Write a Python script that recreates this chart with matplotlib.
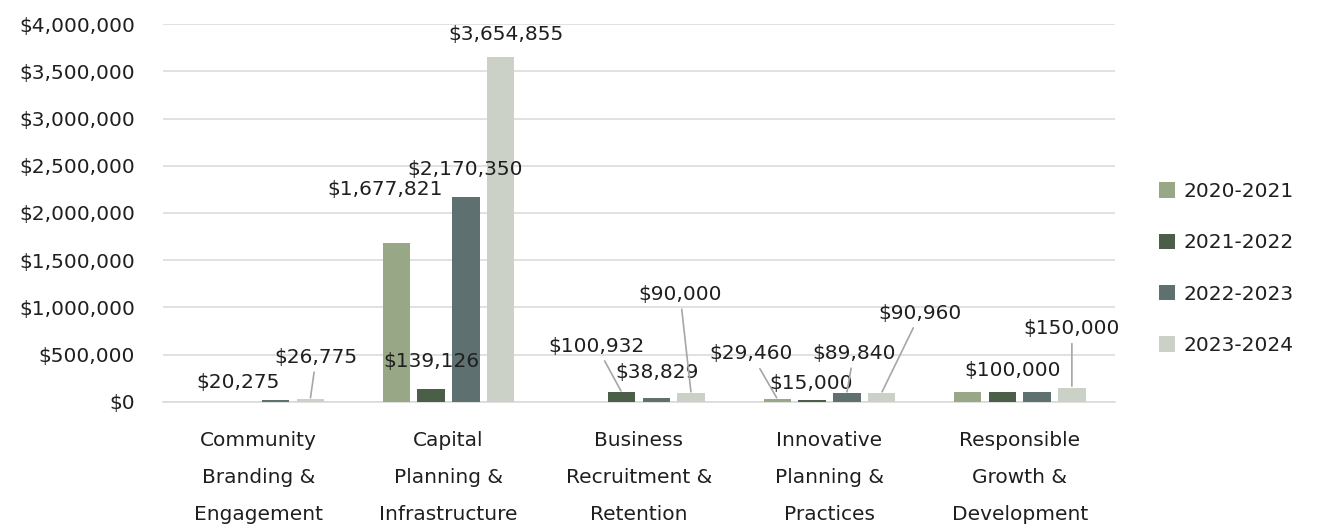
import numpy as np
import matplotlib
matplotlib.use("Agg")
import matplotlib.pyplot as plt
from matplotlib.ticker import FuncFormatter

plt.rcParams['font.family'] = ['DejaVu Sans']

categories = ["Community\nBranding &\nEngagement", "Capital\nPlanning &\nInfrastructure",
              "Business\nRecruitment &\nRetention", "Innovative\nPlanning &\nPractices",
              "Responsible\nGrowth &\nDevelopment"]
years = ["2020-2021", "2021-2022", "2022-2023", "2023-2024"]
fy2021 = [np.nan, 1677821, np.nan, 29460, 100000]
fy2122 = [np.nan, 139126, 100932, 15000, 100000]
fy2223 = [20275, 2170350, 38829, 89840, 100000]
fy2324 = [26775, 3654855, 90000, 90960, 150000]
colors = ["#98a886", "#4b5e48", "#5e7070", "#cbd1c6"]

# (category, series) -> label offset in pixels from bar top, leader line or not
label_pos = {
    (0, 2): (-37, 17, False), (0, 3): (6, 42, True),
    (1, 0): (-11, 54, False), (1, 1): (0, 27, False), (1, 2): (-1, 27, False), (1, 3): (5, 22, False),
    (2, 1): (-25, 46, True), (2, 2): (1, 26, False), (2, 3): (-11, 99, True),
    (3, 0): (-26, 45, True), (3, 1): (-1, 17, False), (3, 2): (7, 40, True), (3, 3): (39, 80, True),
    (4, 1): (10, 22, False), (4, 3): (0, 59, True),
}
fs = 14.5

fig = plt.figure(figsize=(13.21, 5.27), dpi=100)
ax = fig.add_axes([163 / 1321, 1 - 401.7 / 527, (1115 - 163) / 1321, (401.7 - 24.1) / 527])

series = [fy2021, fy2122, fy2223, fy2324]
x = np.arange(len(categories))
step = 0.1823
width = 0.1445
for j, vals in enumerate(series):
    xs = x + (j - 1.5) * step
    ax.bar(xs, vals, width, color=colors[j], label=years[j], zorder=3)
    for i, v in enumerate(vals):
        if (i, j) not in label_pos or np.isnan(v):
            continue
        dx, dy, lead = label_pos[(i, j)]
        ap = None
        if lead:
            ap = dict(arrowstyle='-', color='#a6a6a6', lw=1.2, shrinkA=2, shrinkB=1)
        ax.annotate(f"${v:,.0f}", xy=(xs[i], v), xytext=(dx, dy), textcoords='offset pixels',
                    ha='center', va='center', fontsize=fs, color='#1f1f1f',
                    arrowprops=ap, zorder=5)

ax.set_xlim(-0.5, len(categories) - 0.5)
ax.set_ylim(0, 4000000)
ax.set_yticks(np.arange(0, 4000001, 500000))
ax.yaxis.set_major_formatter(FuncFormatter(lambda v, p: f"${v:,.0f}"))
ax.set_xticks(x)
ax.set_xticklabels(categories, linespacing=2.2)
ax.tick_params(axis='both', length=0, labelsize=fs, colors='#1f1f1f')
ax.tick_params(axis='y', pad=20)
ax.tick_params(axis='x', pad=21)
ax.grid(axis='y', color='#d9d9d9', lw=1.1, zorder=0)
for s in ['top', 'right', 'left']:
    ax.spines[s].set_visible(False)
ax.spines['bottom'].set_color('#d9d9d9')
ax.spines['bottom'].set_linewidth(1.1)

fig.legend(loc='center left', bbox_to_anchor=(1159 / 1321, 1 - 268.5 / 527), frameon=False,
           fontsize=fs, handlelength=0.8, handleheight=0.8, handletextpad=0.4,
           labelspacing=1.61, borderpad=0, borderaxespad=0, labelcolor='#1f1f1f')

fig.savefig("out.png", dpi=100)
